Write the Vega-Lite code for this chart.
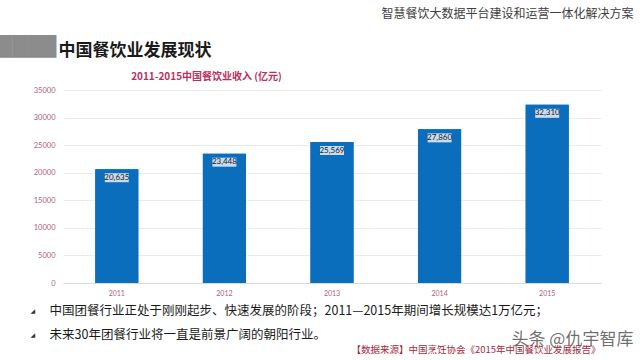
{
  "$schema": "https://vega.github.io/schema/vega-lite/v6.json",
  "autosize": {"type": "none"},
  "width": 538,
  "height": 193,
  "padding": {"left": 63, "top": 90, "right": 39, "bottom": 77},
  "background": "white",
  "config": {"view": {"stroke": null}, "font": "Noto Sans CJK SC"},
  "data": {"values": [
    {"year": "2011", "revenue": 20635},
    {"year": "2012", "revenue": 23448},
    {"year": "2013", "revenue": 25569},
    {"year": "2014", "revenue": 27860},
    {"year": "2015", "revenue": 32310}
  ]},
  "resolve": {"axis": {"x": "independent", "y": "independent"}},
  "layer": [
    {
      "mark": {"type": "bar", "color": "#0A6EBD"},
      "encoding": {
        "x": {"field": "year", "type": "nominal", "scale": {"paddingInner": 0.6, "paddingOuter": 0.3},
          "axis": {"orient": "top", "labels": false, "ticks": false, "domain": false, "grid": false,
            "title": "中国餐饮业发展现状", "titleX": -5, "titleY": -40, "titleAlign": "left", "titleBaseline": "middle",
            "titleFont": "Noto Sans CJK SC", "titleFontSize": 17, "titleFontWeight": "bold", "titleColor": "#1a1a1a"}},
        "y": {"field": "revenue", "type": "quantitative", "scale": {"domain": [0, 35000]},
          "axis": {"orient": "right", "labels": false, "ticks": false, "domain": false, "grid": false,
            "title": "头条 @仇宇智库", "titleAngle": 0, "titleX": -90, "titleY": 249, "titleAlign": "left", "titleBaseline": "middle",
            "titleFont": "Noto Sans CJK SC", "titleFontSize": 17, "titleFontWeight": "normal", "titleColor": "#555555", "titleOpacity": 0.85}}
      }
    },
    {
      "mark": {"type": "bar", "color": "#0A6EBD"},
      "encoding": {
        "x": {"field": "year", "type": "nominal",
          "axis": {"orient": "bottom", "labelAngle": 0, "labelFont": "Lato", "labelFontSize": 7, "labelColor": "#B0607E",
            "labelPadding": 6, "ticks": false, "domainColor": "#D9D9D9", "grid": false,
            "title": ["中国团餐行业正处于刚刚起步、快速发展的阶段；2011—2015年期间增长规模达1万亿元；", "未来30年团餐行业将一直是前景广阔的朝阳行业。"],
            "titleX": -14, "titleY": 27, "titleAlign": "left", "titleBaseline": "middle", "titleLineHeight": 24,
            "titleFont": "Noto Sans CJK SC", "titleFontSize": 12.5, "titleFontWeight": "normal", "titleColor": "#1a1a1a"}},
        "y": {"field": "revenue", "type": "quantitative",
          "axis": {"orient": "left", "values": [0, 5000, 10000, 15000, 20000, 25000, 30000, 35000], "format": "d",
            "labelFont": "Lato", "labelFontSize": 7.5, "labelColor": "#B0607E", "labelPadding": 8,
            "ticks": false, "domain": false, "grid": true, "gridColor": "#EBEBEB",
            "title": "2011-2015中国餐饮业收入 (亿元)", "titleAngle": 0, "titleX": 143, "titleY": -14, "titleAlign": "center", "titleBaseline": "middle",
            "titleFont": "Noto Sans CJK SC", "titleFontSize": 10, "titleFontWeight": "bold", "titleColor": "#B8305E"}}
      }
    },
    {
      "mark": {"type": "tick", "color": "#C9DCF0", "opacity": 1, "size": 24, "thickness": 9, "yOffset": 8.5},
      "encoding": {
        "x": {"field": "year", "type": "nominal",
          "axis": {"orient": "top", "labels": false, "ticks": false, "domain": false, "grid": false,
            "title": "智慧餐饮大数据平台建设和运营一体化解决方案", "titleX": 570, "titleY": -77, "titleAlign": "right", "titleBaseline": "middle",
            "titleFont": "Noto Sans CJK SC", "titleFontSize": 12, "titleFontWeight": "normal", "titleColor": "#404040"}},
        "y": {"field": "revenue", "type": "quantitative",
          "axis": {"orient": "right", "labels": false, "ticks": false, "domain": false, "grid": false,
            "title": "【数据来源】中国烹饪协会《2015年中国餐饮业发展报告》", "titleAngle": 0, "titleX": -250, "titleY": 259, "titleAlign": "left", "titleBaseline": "middle",
            "titleFont": "Noto Sans CJK SC", "titleFontSize": 9.5, "titleFontWeight": "normal", "titleColor": "#A8283C"}}
      }
    },
    {
      "mark": {"type": "text", "fontSize": 8, "font": "Lato", "color": "#1a1a1a", "baseline": "middle", "yOffset": 8.5},
      "encoding": {
        "x": {"field": "year", "type": "nominal",
          "axis": {"orient": "bottom", "labels": false, "ticks": false, "domain": false, "grid": false,
            "title": ["◢", "◢"], "titleX": -33, "titleY": 27, "titleAlign": "left", "titleBaseline": "middle", "titleLineHeight": 24,
            "titleFont": "DejaVu Sans", "titleFontSize": 6, "titleFontWeight": "normal", "titleColor": "#333333"}},
        "y": {"field": "revenue", "type": "quantitative",
          "axis": {"orient": "left", "labels": false, "ticks": false, "domain": false, "grid": false,
            "title": "████", "titleAngle": 0, "titleX": -36.5, "titleY": -43.5, "titleAlign": "center", "titleBaseline": "middle",
            "titleFont": "DejaVu Sans", "titleFontSize": 19, "titleFontWeight": "normal", "titleColor": "#8C8C8C"}},
        "text": {"field": "revenue", "type": "quantitative", "format": ","}
      }
    }
  ]
}
